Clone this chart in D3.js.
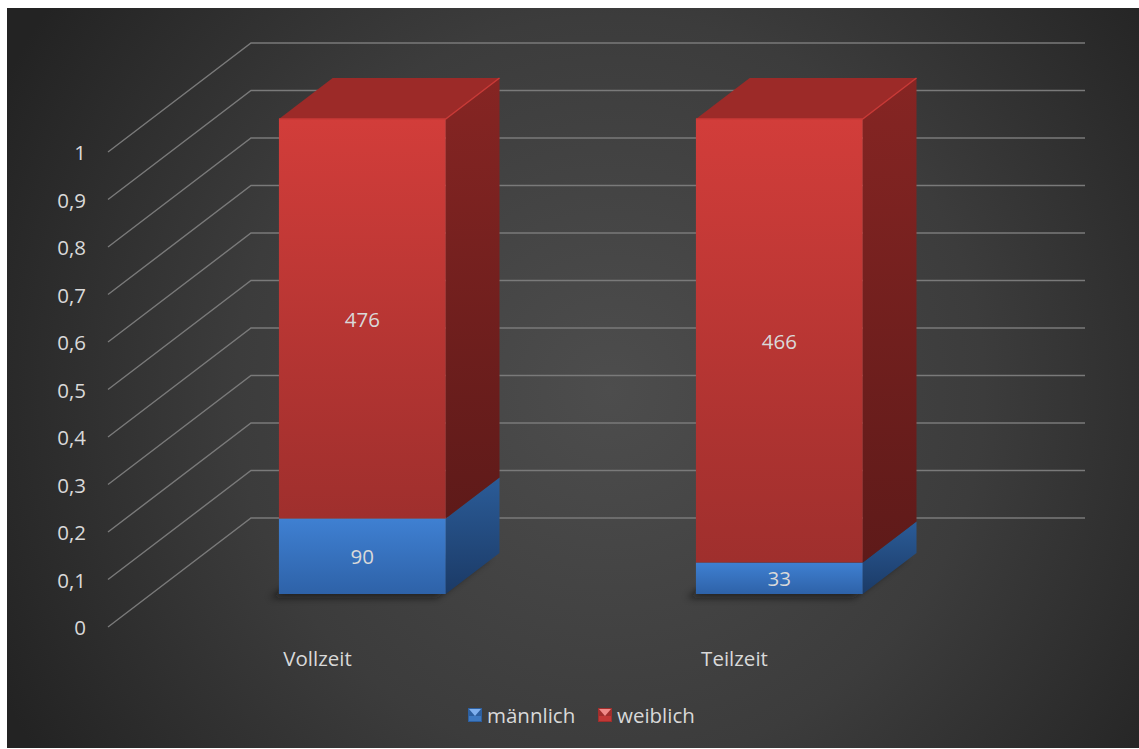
<!DOCTYPE html>
<html>
<head>
<meta charset="utf-8">
<script src="https://cdn.jsdelivr.net/npm/d3@7"></script>
<style>
  html, body { margin: 0; padding: 0; background: #ffffff; }
  svg { display: block; }
  text { font-family: "Open Sans", "Noto Sans", sans-serif; fill: #d9d9d9; }
</style>
</head>
<body>
<svg id="chart" width="1139" height="749"></svg>
<script>
// Beschäftigte nach Arbeitszeit und Geschlecht (100 % gestapelt)
const categories = ["Vollzeit", "Teilzeit"];
const seriesNames = ["männlich", "weiblich"];
const maennlich = [90, 33];
const weiblich = [476, 466];
const tickValues = [0, 0.1, 0.2, 0.3, 0.4, 0.5, 0.6, 0.7, 0.8, 0.9, 1];

const svg = d3.select("#chart");
const defs = svg.append("defs");

// Chart area
const area = { x: 7, y: 8, w: 1132, h: 740 };
const bg = defs.append("radialGradient").attr("id", "bg")
  .attr("gradientUnits", "userSpaceOnUse")
  .attr("cx", 610).attr("cy", 390).attr("r", 680);
bg.append("stop").attr("offset", "0%").attr("stop-color", "#4d4d4d");
bg.append("stop").attr("offset", "55%").attr("stop-color", "#3c3c3c");
bg.append("stop").attr("offset", "100%").attr("stop-color", "#232323");
svg.append("rect").attr("x", area.x).attr("y", area.y)
  .attr("width", area.w).attr("height", area.h).attr("fill", "url(#bg)");

// 3D projection: floor front-left corner, depth vector towards the back wall
const origin = { x: 108, y: 627 };
const depth = { x: 143, y: -109 };
const zFront = 0.303, zBack = 0.679;
const barShiftX = 2.5; // perspective nudge of the columns

const x = d3.scaleBand().domain(categories).range([origin.x, origin.x + 834])
  .paddingInner(0.6).paddingOuter(0.3);
const y = d3.scaleLinear().domain([0, 1]).range([0, 475]);
const P = (px, v, z) => [px + depth.x * z, origin.y - y(v) + depth.y * z];

// Gridlines: side wall (diagonal) + back wall (horizontal)
const grid = svg.append("g").attr("stroke", "#7a7a7a").attr("stroke-width", 1.4).attr("fill", "none");
tickValues.forEach(v => {
  const a = P(origin.x, v, 0), b = P(origin.x, v, 1), c = P(origin.x + 834, v, 1);
  grid.append("path").attr("d", `M${a}L${b}L${c}`);
});

// Value axis labels
svg.append("g").selectAll("text").data(tickValues).join("text")
  .attr("x", 86).attr("y", d => P(origin.x, d, 0)[1])
  .attr("text-anchor", "end").attr("dominant-baseline", "central")
  .attr("font-size", 20.5)
  .text(d => d3.format(".1~f")(d).replace(".", ","));

// Category labels on the floor front edge
svg.append("g").selectAll("text").data(categories).join("text")
  .attr("x", d => x(d) + x.bandwidth() / 2 + 1).attr("y", 658)
  .attr("text-anchor", "middle").attr("dominant-baseline", "central")
  .attr("font-size", 20.5)
  .text(d => d);

// Gradients for bar faces
function vGrad(id, c1, c2) {
  const g = defs.append("linearGradient").attr("id", id)
    .attr("x1", 0).attr("y1", 0).attr("x2", 0).attr("y2", 1);
  g.append("stop").attr("offset", "0%").attr("stop-color", c1);
  g.append("stop").attr("offset", "100%").attr("stop-color", c2);
}
vGrad("redFront", "#d23d3a", "#9f2f2d");
vGrad("redSide", "#862523", "#5e1a19");
vGrad("blueFront", "#3f80d2", "#2e62a8");
vGrad("blueSide", "#2b5c98", "#1b3a66");
const faces = {
  "männlich": { front: "url(#blueFront)", side: "url(#blueSide)", top: "#3566a8" },
  "weiblich": { front: "url(#redFront)", side: "url(#redSide)", top: "#9c2a28" }
};

const shadow = defs.append("filter").attr("id", "shadow")
  .attr("x", "-30%").attr("y", "-100%").attr("width", "160%").attr("height", "300%");
shadow.append("feGaussianBlur").attr("stdDeviation", 3.5);

// Stacked shares
const rows = categories.map((c, i) => {
  const total = maennlich[i] + weiblich[i];
  return { cat: c, segs: [
    { key: "männlich", value: maennlich[i], y0: 0, y1: maennlich[i] / total },
    { key: "weiblich", value: weiblich[i], y0: maennlich[i] / total, y1: 1 }
  ]};
});

const bars = svg.append("g");
rows.forEach(r => {
  const x0 = x(r.cat) + barShiftX, x1 = x0 + x.bandwidth();
  const g = bars.append("g");
  // soft floor shadow under the column footprint
  const f0 = P(x0, 0, zFront), f1 = P(x1, 0, zFront), f2 = P(x1, 0, zBack), f3 = P(x0, 0, zBack);
  g.append("path")
    .attr("d", `M${f0}L${f1}L${f2}L${f3}Z`)
    .attr("transform", "translate(-9,4)")
    .attr("fill", "#111").attr("opacity", 0.6).attr("filter", "url(#shadow)");
  r.segs.forEach((s, i) => {
    const f = faces[s.key];
    const fa = P(x0, s.y0, zFront), fb = P(x1, s.y0, zFront),
          fc = P(x1, s.y1, zFront), fd = P(x0, s.y1, zFront);
    const bb = P(x1, s.y0, zBack), bc = P(x1, s.y1, zBack), bd = P(x0, s.y1, zBack);
    // right side face
    g.append("path").attr("d", `M${fb}L${bb}L${bc}L${fc}Z`).attr("fill", f.side);
    // front face
    g.append("path").attr("d", `M${fa}L${fb}L${fc}L${fd}Z`).attr("fill", f.front);
    // top face of the uppermost segment
    if (i === r.segs.length - 1) {
      g.append("path").attr("d", `M${fd}L${fc}L${bc}L${bd}Z`).attr("fill", f.top);
      g.append("path").attr("d", `M${fd}L${fc}L${bc}`).attr("fill", "none")
        .attr("stroke", "#c93a37").attr("stroke-width", 1.5).attr("stroke-linejoin", "round");
    }
    // value label in the middle of the front face
    g.append("text")
      .attr("x", (x0 + x1) / 2 + depth.x * zFront)
      .attr("y", P(x0, (s.y0 + s.y1) / 2, zFront)[1])
      .attr("text-anchor", "middle").attr("dominant-baseline", "central")
      .attr("font-size", 20.5).attr("fill", "#e6e6e6")
      .text(s.value);
  });
});

// Legend
const legendItems = [
  { name: seriesNames[0], mx: 468, tx: 487, c1: "#4a8ad8", c2: "#2d5f9f", tip: "#7fb0ee" },
  { name: seriesNames[1], mx: 598, tx: 617, c1: "#d8403d", c2: "#a02e2c", tip: "#f08a88" }
];
const legend = svg.append("g");
legendItems.forEach(d => {
  legend.append("rect").attr("x", d.mx).attr("y", 708).attr("width", 14).attr("height", 14)
    .attr("fill", d.c2);
  legend.append("path")
    .attr("d", `M${d.mx + 1},709L${d.mx + 13},709L${d.mx + 7},716Z`)
    .attr("fill", d.tip);
  legend.append("rect").attr("x", d.mx + 1).attr("y", 716).attr("width", 12).attr("height", 5)
    .attr("fill", d.c1).attr("opacity", 0.6);
  legend.append("text").attr("x", d.tx).attr("y", 715)
    .attr("dominant-baseline", "central").attr("font-size", 20.5)
    .text(d.name);
});
</script>
</body>
</html>
